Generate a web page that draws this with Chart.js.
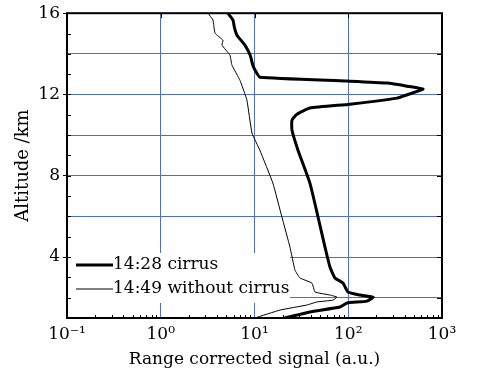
<!DOCTYPE html>
<html>
<head>
<meta charset="utf-8">
<script src="https://cdn.jsdelivr.net/npm/chart.js@4"></script>
<style>
  html, body { margin: 0; padding: 0; background: #fff; }
  #box { width: 479px; height: 374px; }
</style>
</head>
<body>
<div id="box"><canvas id="lidar"></canvas></div>
<script>
// 14:28 with cirrus (thick)
const cirrusAlt = [16, 15.66, 15.3, 14.92, 14.43, 13.93, 13.44, 13.1, 12.85, 12.66, 12.56, 12.41, 12.26, 11.92, 11.82, 11.52, 11.33, 11.03, 10.74, 10.25, 9.26, 7.64, 5.97, 4.49, 3.51, 2.97, 2.72, 2.28, 2.13, 2.03, 1.83, 1.74, 1.54, 1.3, 1.0];
const cirrusSig = [5.2, 5.9, 6.1, 6.5, 7.9, 9.0, 9.6, 10.4, 11.4, 97, 259, 424, 627, 384, 331, 104, 39, 28.4, 25.1, 25.1, 29.1, 39, 47.6, 56.5, 63.8, 72.2, 88, 99, 133, 184, 158, 97, 81.7, 39, 21];

// 14:49 without cirrus (thin)
const clearAlt = [16, 15.66, 15.02, 14.67, 14.43, 13.93, 13.44, 12.7, 11.72, 10.1, 9.26, 7.64, 5.97, 4.49, 3.36, 2.97, 2.72, 2.28, 2.13, 2.03, 1.88, 1.79, 1.64, 1.39, 1.0];
const clearSig = [3.19, 3.61, 3.79, 4.61, 4.5, 5.48, 5.75, 7.0, 8.3, 9.4, 11.4, 15.7, 19.6, 23.9, 27, 30.5, 41, 44.2, 63.8, 75.9, 68.7, 46.4, 36.3, 18.7, 10.1];

const seriesNames = ['14:28 cirrus', '14:49 without cirrus'];
const xTicks = [0.1, 1, 10, 100, 1000];
const xTickLabels = ['10\u207B\u00B9', '10\u2070', '10\u00B9', '10\u00B2', '10\u00B3'];
const yTickLabels = [4, 8, 12, 16];

const FONT = "'DejaVu Serif', serif";
const GRID = '#4f70c2';

function toPoints(xs, ys) {
  return xs.map((x, i) => ({ x: x, y: ys[i] }));
}

// legend inside the plot, drawn over the grid
const insideLegend = {
  id: 'insideLegend',
  beforeDatasetsDraw(chart) {
    const ctx = chart.ctx, a = chart.chartArea;
    ctx.save();
    ctx.fillStyle = '#fff';
    ctx.fillRect(a.left + 1, 253, 222, 50);
    ctx.strokeStyle = '#000';
    ctx.fillStyle = '#000';
    ctx.font = '17px ' + FONT;
    ctx.textBaseline = 'middle';
    const rows = [[265, 3], [289, 1]];
    rows.forEach((r, i) => {
      ctx.lineWidth = r[1];
      ctx.beginPath();
      ctx.moveTo(a.left + 9, r[0]);
      ctx.lineTo(a.left + 46, r[0]);
      ctx.stroke();
      ctx.fillText(seriesNames[i], a.left + 46, r[0]);
    });
    ctx.restore();
  }
};

// small tick marks on the frame
const frameTicks = {
  id: 'frameTicks',
  afterDatasetsDraw(chart) {
    const ctx = chart.ctx, a = chart.chartArea;
    const xs = chart.scales.x, ys = chart.scales.y;
    ctx.save();
    ctx.strokeStyle = '#000';
    ctx.lineWidth = 1;
    ctx.beginPath();
    for (let v = 2; v <= 15; v++) {
      const py = Math.round(ys.getPixelForValue(v)) + 0.5;
      ctx.moveTo(a.left, py); ctx.lineTo(a.left + 4, py);
      if (v % 2 === 0) { ctx.moveTo(a.right, py); ctx.lineTo(a.right - 5, py); }
    }
    for (let d = 0.1; d < 1000; d *= 10) {
      for (let m = 2; m <= 9; m++) {
        const px = Math.round(xs.getPixelForValue(d * m)) + 0.5;
        ctx.moveTo(px, a.bottom); ctx.lineTo(px, a.bottom - 3);
      }
    }
    [1, 10, 100].forEach(v => {
      const px = Math.round(xs.getPixelForValue(v)) + 0.5;
      ctx.moveTo(px, a.top); ctx.lineTo(px, a.top + 5);
    });
    ctx.stroke();
    ctx.lineWidth = 2;
    ctx.strokeRect(a.left, a.top, a.right - a.left, a.bottom - a.top);
    ctx.restore();
  }
};

new Chart(document.getElementById('lidar'), {
  type: 'scatter',
  data: {
    datasets: [
      {
        label: seriesNames[0],
        data: toPoints(cirrusSig, cirrusAlt),
        showLine: true,
        borderColor: '#000',
        borderWidth: 3,
        pointRadius: 0,
        tension: 0.15
      },
      {
        label: seriesNames[1],
        data: toPoints(clearSig, clearAlt),
        showLine: true,
        borderColor: '#000',
        borderWidth: 1,
        pointRadius: 0,
        tension: 0.1
      }
    ]
  },
  options: {
    responsive: true,
    maintainAspectRatio: false,
    animation: false,
    layout: { padding: { left: 0, top: 13, right: 37, bottom: 0 } },
    plugins: {
      legend: { display: false },
      tooltip: { enabled: false }
    },
    scales: {
      x: {
        type: 'logarithmic',
        min: 0.1,
        max: 1000,
        afterBuildTicks: s => { s.ticks = xTicks.map(v => ({ value: v })); },
        afterFit: s => { s.height = 56; },
        border: { display: false },
        grid: {
          color: c => (c.tick && (c.tick.value === 0.1 || c.tick.value === 1000)) ? 'rgba(0,0,0,0)' : GRID,
          lineWidth: 1,
          drawTicks: false
        },
        ticks: {
          autoSkip: false,
          maxRotation: 0,
          padding: 6,
          color: '#000',
          font: { family: FONT, size: 17 },
          callback: (v) => {
            const i = xTicks.indexOf(v);
            return i >= 0 ? xTickLabels[i] : '';
          }
        },
        title: {
          display: true,
          text: 'Range corrected signal (a.u.)',
          color: '#000',
          font: { family: FONT, size: 17 },
          padding: { top: 0, bottom: 4 }
        }
      },
      y: {
        min: 1,
        max: 16,
        afterFit: s => { s.width = 67; },
        border: { display: false },
        grid: {
          color: c => (c.tick && c.tick.value % 2 === 0 && c.tick.value < 16) ? GRID : 'rgba(0,0,0,0)',
          tickColor: c => (c.tick && yTickLabels.includes(c.tick.value)) ? '#000' : 'rgba(0,0,0,0)',
          tickLength: 4,
          lineWidth: 1
        },
        ticks: {
          stepSize: 1,
          autoSkip: false,
          padding: 3,
          color: '#000',
          font: { family: FONT, size: 17 },
          callback: v => yTickLabels.includes(v) ? String(v) : ''
        },
        title: {
          display: true,
          text: 'Altitude /km',
          color: '#000',
          font: { family: FONT, size: 18 },
          padding: { top: 13, bottom: 0 }
        }
      }
    }
  },
  plugins: [insideLegend, frameTicks]
});
</script>
</body>
</html>
